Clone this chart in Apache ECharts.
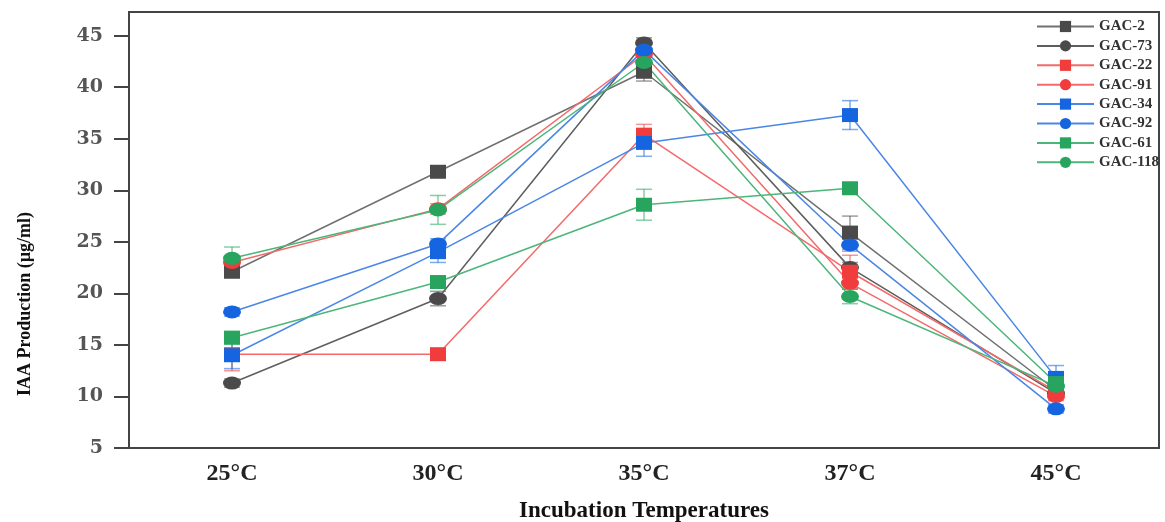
<!DOCTYPE html>
<html><head><meta charset="utf-8">
<script src="https://cdn.jsdelivr.net/npm/echarts@6/dist/echarts.min.js"></script>
<style>html,body{margin:0;padding:0;background:#fff}#c{width:1165px;height:522px}</style>
</head><body><div id="c"></div>
<script>
const categories = ['25°C', '30°C', '35°C', '37°C', '45°C'];
const yTicks = [5, 10, 15, 20, 25, 30, 35, 40, 45];
const seriesNames = ['GAC-2', 'GAC-73', 'GAC-22', 'GAC-91', 'GAC-34', 'GAC-92', 'GAC-61', 'GAC-118'];
const gac2   = [22.1, 31.8, 41.5, 25.9, 10.6];
const gac73  = [11.3, 19.5, 44.3, 22.5, 10.3];
const gac22  = [14.1, 14.1, 35.4, 22.1, 10.5];
const gac91  = [23.0, 28.2, 43.2, 21.0, 10.0];
const gac34  = [14.0, 24.0, 34.6, 37.3, 11.8];
const gac92  = [18.2, 24.8, 43.6, 24.7, 8.8];
const gac61  = [15.7, 21.1, 28.6, 30.2, 11.3];
const gac118 = [23.4, 28.1, 42.4, 19.7, 11.0];
const err2   = [0.5, 0.4, 0.9, 1.6, 0.5];
const err73  = [0.4, 0.7, 0.5, 0.5, 0.4];
const err22  = [1.6, 0.4, 1.0, 1.6, 0.5];
const err91  = [0.5, 0.5, 0.6, 0.6, 0.4];
const err34  = [1.3, 1.0, 1.3, 1.4, 1.2];
const err92  = [0.4, 0.5, 0.5, 0.6, 0.4];
const err61  = [0.6, 0.5, 1.5, 0.5, 0.6];
const err118 = [1.1, 1.4, 0.6, 0.7, 0.8];

const values = [gac2, gac73, gac22, gac91, gac34, gac92, gac61, gac118];
const errors = [err2, err73, err22, err91, err34, err92, err61, err118];
const colors = ['#4a4a4a', '#4a4a4a', '#f03c3c', '#f03c3c', '#1565e0', '#1565e0', '#27a55e', '#27a55e'];
const lineColors = ['#707070', '#5e5e5e', '#f46a6a', '#f46a6a', '#4a86e6', '#4a86e6', '#4cb67a', '#4cb67a'];
const ellipse = 'path://M0,6 A8,6 0 1,1 16,6 A8,6 0 1,1 0,6 Z';
const shapes = ['rect', ellipse, 'rect', ellipse, 'rect', ellipse, 'rect', ellipse];
const sizes = [[16, 14], [18, 13], [16, 14], [18, 13], [16, 14], [18, 13], [16, 14], [18, 13]];

const series = [];
seriesNames.forEach((n, i) => {
  series.push({
    type: 'custom', name: n + ' err', silent: true, z: 1,
    renderItem: function (params, api) {
      const idx = api.value(0), v = api.value(1), e = api.value(2);
      const top = api.coord([idx, v + e]);
      const bot = api.coord([idx, v - e]);
      const hw = 8;
      const st = { stroke: colors[i], lineWidth: 1.5, opacity: 0.55 };
      return { type: 'group', children: [
        { type: 'line', shape: { x1: top[0], y1: top[1], x2: bot[0], y2: bot[1] }, style: st },
        { type: 'line', shape: { x1: top[0] - hw, y1: top[1], x2: top[0] + hw, y2: top[1] }, style: st },
        { type: 'line', shape: { x1: bot[0] - hw, y1: bot[1], x2: bot[0] + hw, y2: bot[1] }, style: st }
      ]};
    },
    data: values[i].map((v, k) => [k, v, errors[i][k]])
  });
});
seriesNames.forEach((n, i) => {
  series.push({
    type: 'line', name: n, data: values[i], z: 2,
    symbol: shapes[i], symbolSize: sizes[i],
    itemStyle: { color: colors[i] },
    lineStyle: { color: lineColors[i], width: 1.5 }
  });
});

const chart = echarts.init(document.getElementById('c'), null, { renderer: 'canvas' });
chart.setOption({
  animation: false,
  backgroundColor: '#fff',
  grid: { left: 129, right: 6, top: 12, bottom: 74, show: true, borderColor: '#444', borderWidth: 2, containLabel: false, outerBoundsMode: 'none' },
  legend: {
    data: seriesNames.map(n => ({ name: n })),
    orient: 'vertical', left: 1031, top: 14,
    itemWidth: 57, itemHeight: 14, itemGap: 4.4,
    textStyle: { fontFamily: 'Liberation Serif', fontWeight: 'bold', fontSize: 15, lineHeight: 14, color: '#333' }
  },
  graphic: [{
    type: 'text', x: 25, y: 304, rotation: Math.PI / 2,
    style: { text: 'IAA Production (µg/ml)', fontFamily: 'Liberation Serif', fontWeight: 'bold', fontSize: 18, fill: '#111', align: 'center', verticalAlign: 'middle' }
  }],
  xAxis: {
    type: 'category', data: categories, boundaryGap: true,
    axisLine: { lineStyle: { color: '#444', width: 2 } },
    axisTick: { alignWithLabel: true, length: 13, lineStyle: { color: '#444', width: 2 } },
    axisLabel: { margin: 14, fontFamily: 'Liberation Serif', fontWeight: 'bold', fontSize: 24, color: '#222' },
    name: 'Incubation Temperatures', nameLocation: 'middle', nameGap: 52,
    nameTextStyle: { fontFamily: 'Liberation Serif', fontWeight: 'bold', fontSize: 23, color: '#111' }
  },
  yAxis: {
    type: 'value', min: 5, max: 47.3,
    splitLine: { show: false },
    axisLine: { show: true, lineStyle: { color: '#444', width: 2 } },
    axisTick: { show: true, length: 15, customValues: yTicks, lineStyle: { color: '#444', width: 2 } },
    axisLabel: { margin: 26, customValues: yTicks, fontFamily: 'DejaVu Serif', fontWeight: 'bold', fontSize: 19, color: '#555' }
  },
  series: series
});
</script></body></html>
